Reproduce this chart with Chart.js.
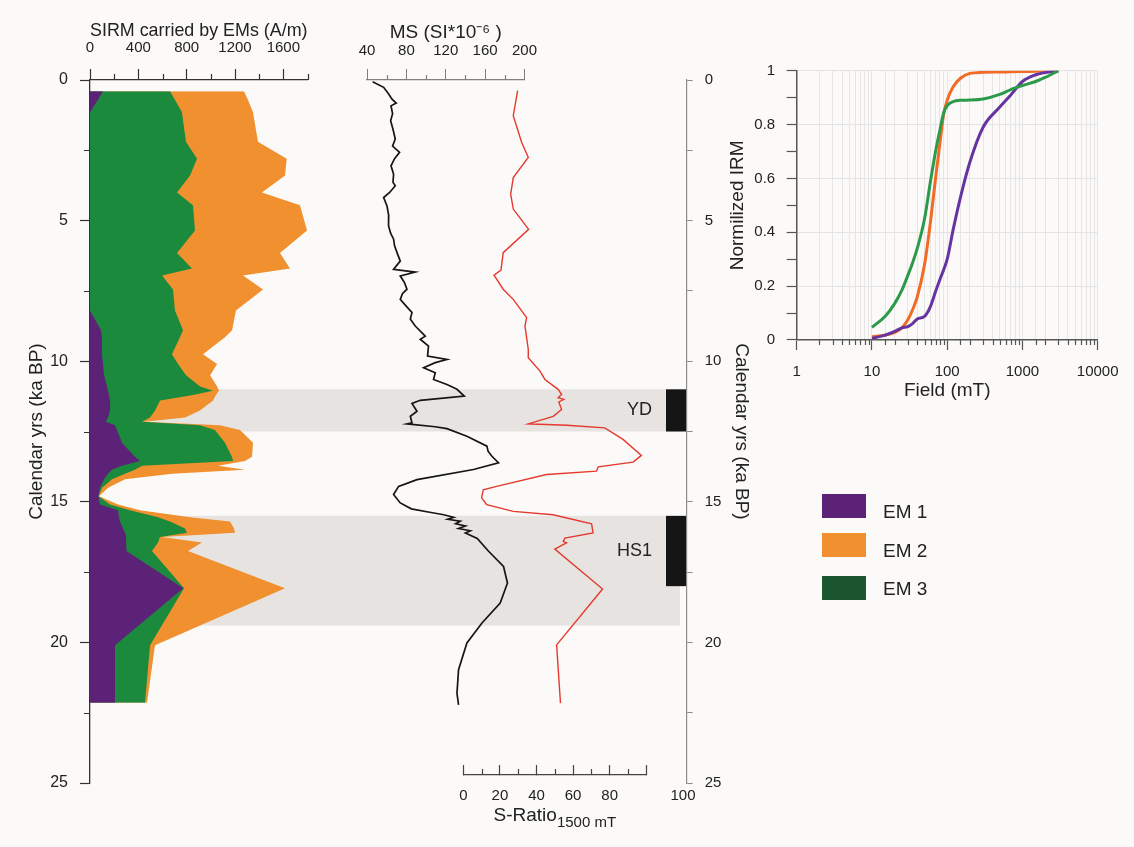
<!DOCTYPE html>
<html>
<head>
<meta charset="utf-8">
<title>SIRM, MS, S-ratio and IRM</title>
<script src="https://cdn.jsdelivr.net/npm/chart.js@4.4.1/dist/chart.umd.min.js"></script>
<style>
  html, body { margin: 0; padding: 0; background: #fbfaf8; }
  #figure { position: relative; width: 1134px; height: 847px; overflow: hidden;
            font-family: "Liberation Sans", Arial, sans-serif; color: #222; }
  #figure canvas { position: absolute; left: 0; top: 0; }
  .swatch { position: absolute; left: 822px; width: 44px; height: 24px; }
  .lgtext { position: absolute; left: 883px; font-size: 19px; line-height: 22px; }
</style>
</head>
<body>
<div id="figure">
  <canvas id="sirmChart" width="1134" height="847"></canvas>
  <canvas id="msChart" width="1134" height="847"></canvas>
  <canvas id="sRatioChart" width="1134" height="847"></canvas>
  <canvas id="ageAxisChart" width="1134" height="847"></canvas>
  <canvas id="irmChart" width="1134" height="847"></canvas>

  <div class="swatch" style="top:494px;background:#5c2277"></div>
  <div class="lgtext" style="top:501px">EM 1</div>
  <div class="swatch" style="top:533px;background:#f0902f"></div>
  <div class="lgtext" style="top:540px">EM 2</div>
  <div class="swatch" style="top:576px;background:#1b5631"></div>
  <div class="lgtext" style="top:578px">EM 3</div>
</div>
<script>
// ---- data (ages in ka BP) ----
const ageSirm = [0.4, 0.7, 1.15, 2.2, 2.8, 3.4, 4.0, 4.45, 5.35, 6.15,
  6.7, 6.95, 7.45, 8.2, 8.9, 9.15, 9.75, 10.1, 10.5, 10.9,
  11.05, 11.2, 11.4, 11.75, 12.0, 12.15, 12.28, 12.45, 12.9, 13.4,
  13.55, 13.72, 13.86, 14.0, 14.2, 14.5, 14.8, 15.1, 15.3, 15.55,
  15.7, 15.95, 16.1, 16.25, 16.45, 16.75, 18.07, 20.1, 22.15];
const em1 = [108, 66, 0, 0, 0, 0, 0, 0, 0, 0,
  0, 0, 0, 0, 91, 99, 99, 108, 116, 141,
  149, 157, 166, 166, 149, 132, 207, 223, 265, 372,
  414, 265, 182, 149, 116, 83, 69, 83, 232, 240,
  248, 273, 290, 298, 298, 306, 772, 207, 207];
const em3 = [554, 637, 761, 794, 886, 828, 720, 852, 869, 720,
  844, 596, 687, 703, 679, 646, 579, 621, 679, 770,
  869, 695, 414, 372, 348, 298, 703, 811, 852, 803,
  770, 166, 190, 141, 66, 17, 2, 83, 99, 323,
  414, 513, 513, 281, 265, 207, 6, 290, 248];
const em2 = [612, 604, 588, 596, 742, 786, 703, 886, 927, 852,
  811, 670, 745, 505, 406, 372, 257, 323, 199, 141,
  50, 190, 439, 372, 290, 17, 166, 207, 232, 166,
  99, 629, 910, 389, 108, 50, 4, 66, 83, 265,
  497, 406, 397, 17, 364, 298, 836, 41, 17];

const ageMs = [0.06, 0.26, 0.5, 0.68, 0.82, 0.92, 1.2, 1.45, 1.75, 2.1,
  2.35, 2.57, 2.8, 3.05, 3.35, 3.64, 3.76, 4.0, 4.18, 4.48,
  4.8, 5.19, 5.45, 5.66, 5.9, 6.14, 6.44, 6.6, 6.73, 6.83,
  6.97, 7.2, 7.44, 7.6, 7.8, 8.05, 8.27, 8.5, 8.75, 9.11,
  9.22, 9.46, 9.82, 9.94, 10.05, 10.23, 10.41, 10.65, 10.83, 11.0,
  11.24, 11.39, 11.5, 11.78, 11.96, 12.19, 12.23, 12.33, 12.4, 12.67,
  13.02, 13.2, 13.38, 13.61, 13.85, 14.21, 14.45, 14.74, 15.04, 15.25,
  15.38, 15.46, 15.55, 15.62, 15.69, 15.78, 15.86, 15.95, 16.03, 16.11,
  16.3, 16.76, 17.3, 17.89, 18.6, 19.31, 20.02, 20.97, 21.81, 22.22];
const ms = [45.7, 56.9, 62, 65.4, 69.7, 64.4, 66, 64, 66.4, 68.7,
  66, 73.1, 68, 64.4, 67, 66.4, 68.7, 63, 56.9, 60.3,
  62, 61.9, 64, 67, 68, 70.5, 73.8, 70, 67, 89,
  73.8, 78, 80.6, 76, 73.8, 80, 85.7, 84, 89, 99.2,
  94.1, 102.5, 101.5, 121.2, 109.3, 97.5, 109.3, 107.6, 121.2, 131.4,
  138.8, 94.1, 85.7, 90.8, 84, 85.7, 80.6, 109.3, 121.2, 141.5,
  161.8, 163, 166.9, 173.6, 148.2, 90.8, 72.1, 67, 73.8, 85,
  105, 118, 128, 122, 134.7, 130, 140, 133, 145, 140,
  152, 163.5, 178.7, 182.7, 175.3, 156.8, 141.5, 133, 131.4, 133];

const ageS = [0.38, 1.27, 2.22, 2.75, 3.47, 4.06, 4.59, 5.31, 6.14, 6.76,
  6.94, 7.44, 7.8, 8.45, 8.75, 9.58, 9.88, 10.35, 10.65, 11.0,
  11.18, 11.3, 11.36, 11.45, 11.72, 11.96, 12.07, 12.23, 12.25, 12.28,
  12.37, 12.78, 13.35, 13.59, 13.76, 13.91, 14.03, 14.45, 14.57, 14.86,
  15.1, 15.34, 15.46, 15.78, 16.11, 16.29, 16.41, 16.46, 16.68, 18.1,
  20.09, 22.16];
const sRatio = [29.7, 27.3, 31.9, 35.5, 27.3, 25.9, 27.3, 35.7, 21.8, 20.6,
  16.8, 21.8, 27.3, 34.6, 33.7, 35.5, 35.5, 41.9, 44.6, 51.8,
  53.7, 51.8, 54.9, 52.2, 53.7, 49.1, 43.7, 35.5, 45.5, 56.4,
  77.3, 87.3, 97.3, 92.8, 73.7, 72.8, 45.5, 18.2, 10.9, 10.0,
  12.8, 27.3, 49.1, 70.1, 70.9, 55.5, 54.6, 56.4, 50.0, 76.1,
  51.0, 53.1];

// YD and HS1 intervals
const eventNames = ['YD', 'HS1'];
const bandFrom = [11.0, 15.5];
const bandTo = [12.5, 19.4];
const barFrom = [11.0, 15.5];
const barTo = [12.5, 18.0];

// IRM acquisition curves of the end members
const field = [10, 15, 20, 25, 30, 35, 40, 50, 60, 70, 80, 90, 100, 120, 150, 200, 300, 500, 700, 1000, 1500, 2000, 3000];
const irmEm1 = [0.006, 0.018, 0.032, 0.045, 0.05, 0.062, 0.078, 0.088, 0.125, 0.18, 0.225, 0.262, 0.3, 0.41, 0.53, 0.66, 0.79, 0.865, 0.91, 0.96, 0.985, 0.993, 1.0];
const irmEm2 = [0.012, 0.018, 0.028, 0.045, 0.075, 0.115, 0.16, 0.28, 0.44, 0.6, 0.73, 0.84, 0.89, 0.94, 0.972, 0.99, 0.994, 0.995, 0.996, 0.997, 0.998, 0.999, 1.0];
const irmEm3 = [0.047, 0.088, 0.135, 0.185, 0.24, 0.29, 0.34, 0.45, 0.59, 0.7, 0.78, 0.845, 0.87, 0.885, 0.89, 0.891, 0.895, 0.912, 0.93, 0.945, 0.96, 0.975, 1.0];

// ---- layout ----
const W = 1134, H = 847;
const AGE_TOP = 80, AGE_BOTTOM = 783;
const PURPLE = '#5c2277', ORANGE = '#f0902f', GREEN = '#1c8a3d';
const NONE = 'rgba(0,0,0,0)';

Chart.defaults.font.family = "'Liberation Sans', Arial, sans-serif";
Chart.defaults.color = '#222';
Chart.defaults.animation = false;
Chart.defaults.responsive = false;
Chart.defaults.events = [];
Chart.defaults.plugins.legend.display = false;
Chart.defaults.plugins.tooltip.enabled = false;

const near = (v, step) => Math.abs(v / step - Math.round(v / step)) < 1e-6;
const ageLabel = v => near(v, 5) ? v : '';
const isPow10 = v => near(Math.log10(v), 1);

// short tick marks for the unlabelled ticks (Chart.js draws one length only)
function minorTicks(list) {
  return {
    id: 'minorTicks',
    afterDraw(chart) {
      const { ctx } = chart;
      list.forEach(m => {
        const s = chart.scales[m.id];
        ctx.save();
        ctx.strokeStyle = m.color;
        ctx.lineWidth = m.width || 1.2;
        ctx.beginPath();
        s.ticks.forEach(t => {
          if (!m.isMinor(t.value)) return;
          const p = Math.round(s.getPixelForValue(t.value)) + 0.5;
          if (s.isHorizontal()) {
            const b = s.position === 'top' ? s.bottom : s.top;
            ctx.moveTo(p, b); ctx.lineTo(p, b + m.sign * m.length);
          } else {
            const b = s.position === 'left' ? s.right : s.left;
            ctx.moveTo(b, p); ctx.lineTo(b + m.sign * m.length, p);
          }
        });
        ctx.stroke();
        ctx.restore();
      });
    }
  };
}

// stacked widths: EM1 at the axis, EM3 on it, EM2 outermost
const cumEm1 = em1.slice();
const cumEm13 = em1.map((v, i) => v + em3[i]);
const cumAll = cumEm13.map((v, i) => v + em2[i]);

function area(label, values, color) {
  return {
    label: label,
    data: ageSirm.map((a, i) => ({ x: values[i], y: a })),
    backgroundColor: color,
    borderColor: color,
    borderWidth: 0,
    pointRadius: 0,
    fill: 'origin',
    tension: 0
  };
}

const eventBands = {
  id: 'eventBands',
  beforeDatasetsDraw(chart) {
    const { ctx, chartArea } = chart;
    const y = chart.scales.y;
    ctx.save();
    ctx.fillStyle = '#e6e3e1';
    bandFrom.forEach((a, i) => {
      const y0 = y.getPixelForValue(a), y1 = y.getPixelForValue(bandTo[i]);
      ctx.fillRect(chartArea.left, y0, 680 - chartArea.left, y1 - y0);
    });
    ctx.restore();
  },
  afterDatasetsDraw(chart) {
    const { ctx } = chart;
    const y = chart.scales.y;
    ctx.save();
    ctx.fillStyle = '#151515';
    barFrom.forEach((a, i) => {
      const y0 = y.getPixelForValue(a), y1 = y.getPixelForValue(barTo[i]);
      ctx.fillRect(666, y0, 21, y1 - y0);
    });
    ctx.fillStyle = '#222';
    ctx.font = "18px 'Liberation Sans', Arial, sans-serif";
    ctx.textAlign = 'right';
    ctx.textBaseline = 'middle';
    eventNames.forEach((n, i) => {
      ctx.fillText(n, 652, y.getPixelForValue((barFrom[i] + barTo[i]) / 2));
    });
    ctx.restore();
  }
};

// SIRM of the end members, stacked
const sirmMinorX = v => !near(v, 400);
const ageMinor = v => !near(v, 5);
new Chart(document.getElementById('sirmChart'), {
  type: 'line',
  data: { datasets: [area('EM 1', cumEm1, PURPLE), area('EM 3', cumEm13, GREEN), area('EM 2', cumAll, ORANGE)] },
  options: {
    indexAxis: 'y',
    layout: { autoPadding: false, padding: { left: 0, top: 0, right: W - 307.5, bottom: H - AGE_BOTTOM } },
    scales: {
      x: {
        type: 'linear', position: 'top', min: 0, max: 1800,
        afterFit: s => { s.height = AGE_TOP; },
        border: { color: '#333', width: 1.3 },
        grid: { drawOnChartArea: false, tickLength: 11, tickWidth: 1.2,
                tickColor: c => sirmMinorX(c.tick.value) ? NONE : '#333' },
        ticks: { stepSize: 200, autoSkip: false, maxRotation: 0, padding: 12, font: { size: 15 },
                 callback: v => (near(v, 400) && v <= 1600) ? v : '' },
        title: { display: true, text: 'SIRM carried by EMs (A/m)', font: { size: 19 }, padding: { top: 19, bottom: 0 } }
      },
      y: {
        type: 'linear', position: 'left', reverse: true, min: 0, max: 25,
        afterFit: s => { s.width = 90; },
        border: { color: '#333', width: 1.3 },
        grid: { drawOnChartArea: false, tickLength: 10, tickWidth: 1.2,
                tickColor: c => ageMinor(c.tick.value) ? NONE : '#333' },
        ticks: { stepSize: 2.5, autoSkip: false, padding: 12, font: { size: 16 }, callback: ageLabel },
        title: { display: true, text: 'Calendar yrs (ka BP)', font: { size: 19 }, padding: { top: 25, bottom: 0 } }
      }
    }
  },
  plugins: [eventBands, minorTicks([
    { id: 'x', isMinor: sirmMinorX, length: 6, sign: -1, color: '#333' },
    { id: 'y', isMinor: ageMinor, length: 6, sign: -1, color: '#333' }
  ])]
});

// magnetic susceptibility
const msMinor = v => !near(v, 40);
new Chart(document.getElementById('msChart'), {
  type: 'line',
  data: { datasets: [{
    data: ageMs.map((a, i) => ({ x: ms[i], y: a })),
    borderColor: '#151515', borderWidth: 1.7, pointRadius: 0, fill: false, tension: 0
  }] },
  options: {
    indexAxis: 'y',
    layout: { autoPadding: false, padding: { left: 367, top: 0, right: W - 524.5, bottom: H - AGE_BOTTOM } },
    scales: {
      x: {
        type: 'linear', position: 'top', min: 40, max: 200,
        afterFit: s => { s.height = AGE_TOP; },
        border: { color: '#808080', width: 1.2 },
        grid: { drawOnChartArea: false, tickLength: 11,
                tickColor: c => msMinor(c.tick.value) ? NONE : '#808080' },
        ticks: { stepSize: 20, autoSkip: false, maxRotation: 0, padding: 9, font: { size: 15 },
                 callback: v => near(v, 40) ? v : '' },
        title: { display: true, text: 'MS (SI*10\u207B\u2076 )', font: { size: 19 }, padding: { top: 21, bottom: 0 } }
      },
      y: { type: 'linear', display: false, reverse: true, min: 0, max: 25 }
    }
  },
  plugins: [minorTicks([{ id: 'x', isMinor: msMinor, length: 5, sign: -1, color: '#808080' }])]
});

// S-ratio, drawn against the bottom axis
const sRatioTitle = {
  id: 'sRatioTitle',
  afterDraw(chart) {
    const { ctx } = chart;
    const x = chart.scales.x;
    ctx.save();
    ctx.fillStyle = '#222';
    ctx.textBaseline = 'alphabetic';
    ctx.font = "19px 'Liberation Sans', Arial, sans-serif";
    const w1 = ctx.measureText('S-Ratio').width;
    ctx.font = "15px 'Liberation Sans', Arial, sans-serif";
    const w2 = ctx.measureText('1500 mT').width;
    const x0 = (x.left + x.right) / 2 - (w1 + w2) / 2;
    ctx.font = "19px 'Liberation Sans', Arial, sans-serif";
    ctx.textAlign = 'left';
    ctx.fillText('S-Ratio', x0, 821);
    ctx.font = "15px 'Liberation Sans', Arial, sans-serif";
    ctx.fillText('1500 mT', x0 + w1, 827);
    // the 100 label of this axis sits out by the age axis
    ctx.textAlign = 'center';
    ctx.textBaseline = 'middle';
    ctx.fillText('100', 683, 796);
    ctx.restore();
  }
};

const sMinor = v => !near(v, 20);
new Chart(document.getElementById('sRatioChart'), {
  type: 'line',
  data: { datasets: [{
    data: ageS.map((a, i) => ({ x: sRatio[i], y: a })),
    borderColor: '#e5392e', borderWidth: 1.4, pointRadius: 0, fill: false, tension: 0
  }] },
  options: {
    indexAxis: 'y',
    layout: { autoPadding: false, padding: { left: 463.3, top: AGE_TOP, right: W - 646.3, bottom: 0 } },
    scales: {
      x: {
        type: 'linear', position: 'bottom', min: 0, max: 100,
        afterFit: s => { s.height = H - 775; },
        border: { color: '#444', width: 1.3 },
        grid: { drawOnChartArea: false, tickLength: -10, tickWidth: 1.2,
                tickColor: c => sMinor(c.tick.value) ? NONE : '#444' },
        ticks: { stepSize: 10, autoSkip: false, maxRotation: 0, padding: 22, font: { size: 15 },
                 callback: v => (near(v, 20) && v < 100) ? v : '' },
        title: { display: false }
      },
      y: { type: 'linear', display: false, reverse: true, min: 0,
           max: 25 * (775 - AGE_TOP) / (AGE_BOTTOM - AGE_TOP) }
    }
  },
  plugins: [sRatioTitle, minorTicks([{ id: 'x', isMinor: sMinor, length: 6, sign: -1, color: '#444' }])]
});

// right-hand age axis
new Chart(document.getElementById('ageAxisChart'), {
  type: 'line',
  data: { datasets: [] },
  options: {
    layout: { autoPadding: false, padding: { left: 600, top: AGE_TOP, right: W - 686.7 - 80, bottom: H - AGE_BOTTOM } },
    scales: {
      x: { type: 'linear', display: false, min: 0, max: 1 },
      y: {
        type: 'linear', position: 'right', reverse: true, min: 0, max: 25,
        afterFit: s => { s.width = 80; },
        border: { color: '#8c8c8c', width: 1.2 },
        grid: { drawOnChartArea: false, tickLength: 6, tickColor: '#8c8c8c' },
        ticks: { stepSize: 2.5, autoSkip: false, padding: 12, font: { size: 15 }, callback: ageLabel },
        title: { display: true, text: 'Calendar yrs (ka BP)', font: { size: 19 }, padding: { top: 14, bottom: 0 } }
      }
    }
  }
});

// normalised IRM acquisition curves
function irmLine(values, color) {
  return {
    data: field.map((f, i) => ({ x: f, y: values[i] })),
    borderColor: color, borderWidth: 3, pointRadius: 0, fill: false,
    cubicInterpolationMode: 'monotone'
  };
}

const fieldMinor = v => !isPow10(v);
new Chart(document.getElementById('irmChart'), {
  type: 'line',
  data: { datasets: [irmLine(irmEm3, '#2c9a4a'), irmLine(irmEm1, '#6634a0'), irmLine(irmEm2, '#f26b25')] },
  options: {
    layout: { autoPadding: false, padding: { left: 716.7, top: 70.7, right: W - 1097.7, bottom: H - 340 - 62 } },
    scales: {
      x: {
        type: 'logarithmic', position: 'bottom', min: 1, max: 10000,
        afterFit: s => { s.height = 62; },
        border: { color: '#555', width: 1.5 },
        grid: { color: '#e6e6e6', tickLength: 10, tickWidth: 1.2,
                tickColor: c => fieldMinor(c.tick.value) ? NONE : '#555' },
        ticks: { autoSkip: false, maxRotation: 0, padding: 12.5, font: { size: 15 },
                 callback: v => isPow10(v) ? String(v) : '' },
        title: { display: true, text: 'Field (mT)', font: { size: 19 }, padding: { top: 0, bottom: 0 } }
      },
      y: {
        type: 'linear', min: 0, max: 1,
        afterFit: s => { s.width = 80; },
        border: { color: '#555', width: 1.5 },
        grid: { color: c => near(c.tick.value, 0.2) ? '#e4e4e4' : NONE, tickLength: 10, tickColor: '#555', tickWidth: 1.2 },
        ticks: { stepSize: 0.1, autoSkip: false, padding: 11.5, font: { size: 15 },
                 callback: v => near(v, 0.2) ? String(+v.toFixed(1)) : '' },
        title: { display: true, text: 'Normilized IRM', font: { size: 19 }, padding: { top: 10, bottom: 0 } }
      }
    }
  },
  plugins: [minorTicks([{ id: 'x', isMinor: fieldMinor, length: 5, sign: 1, color: '#555' }])]
});
</script>
</body>
</html>
